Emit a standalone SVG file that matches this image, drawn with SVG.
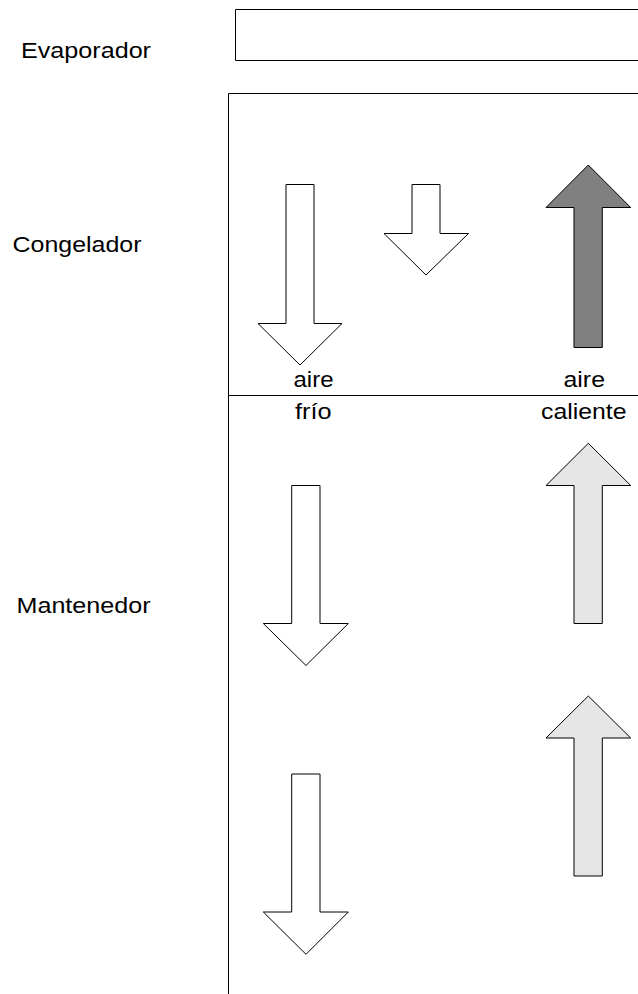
<svg xmlns="http://www.w3.org/2000/svg" width="638" height="994" viewBox="0 0 638 994">
<style>
.lbl{font-family:"Liberation Sans",Arial,sans-serif;font-size:22px;fill:#000}
.frame{fill:none;stroke:#000;stroke-width:1}
.arrow{stroke:#000;stroke-width:1}
.white{fill:#fff}
.dark{fill:#808080}
.light{fill:#e6e6e6}
</style>
<rect width="638" height="994" fill="#fff"/>
<g id="labels">
<text class="lbl" x="21" y="58" textLength="130" lengthAdjust="spacingAndGlyphs">Evaporador</text>
<text class="lbl" x="12.5" y="252" textLength="129" lengthAdjust="spacingAndGlyphs">Congelador</text>
<text class="lbl" x="16.5" y="613" textLength="134" lengthAdjust="spacingAndGlyphs">Mantenedor</text>
</g>
<g id="evaporador">
<path class="frame" d="M640 9.5 H235.5 V60.5 H640"/>
</g>
<g id="cabinet">
<path class="frame" d="M640 93.5 H228.5 V994"/>
<path class="frame" d="M228.5 395.5 H640"/>
</g>
<g id="connectors">
<path class="arrow white" d="M286 184.5 H314 V323.5 H342 L300 365 L258 323.5 H286 Z"/>
<path class="arrow white" d="M412 184.5 H440 V233.5 H468.5 L426 275 L384 233.5 H412 Z"/>
<path class="arrow dark" d="M574 347.5 V207.5 H546 L588.3 165 L630.7 207.5 H602.3 V347.5 Z"/>
<path class="arrow white" d="M291.7 485.5 H320 V623.5 H348.3 L306 665.5 L263.3 623.5 H291.7 Z"/>
<path class="arrow white" d="M291.7 774 H320 V912 H348.3 L306 954.3 L263.3 912 H291.7 Z"/>
<path class="arrow light" d="M574 623.5 V485.5 H546 L588.3 443.3 L630.7 485.5 H602.3 V623.5 Z"/>
<path class="arrow light" d="M574 876 V738 H546 L588.3 696 L630.7 738 H602.3 V876 Z"/>
</g>
<g id="air-labels">
<text class="lbl" x="293.5" y="387" textLength="40" lengthAdjust="spacingAndGlyphs">aire</text>
<text class="lbl" x="295" y="418.5" textLength="36.5" lengthAdjust="spacingAndGlyphs">frío</text>
<text class="lbl" x="563.5" y="387" textLength="41.5" lengthAdjust="spacingAndGlyphs">aire</text>
<text class="lbl" x="541" y="418.5" textLength="85.5" lengthAdjust="spacingAndGlyphs">caliente</text>
</g>
</svg>
